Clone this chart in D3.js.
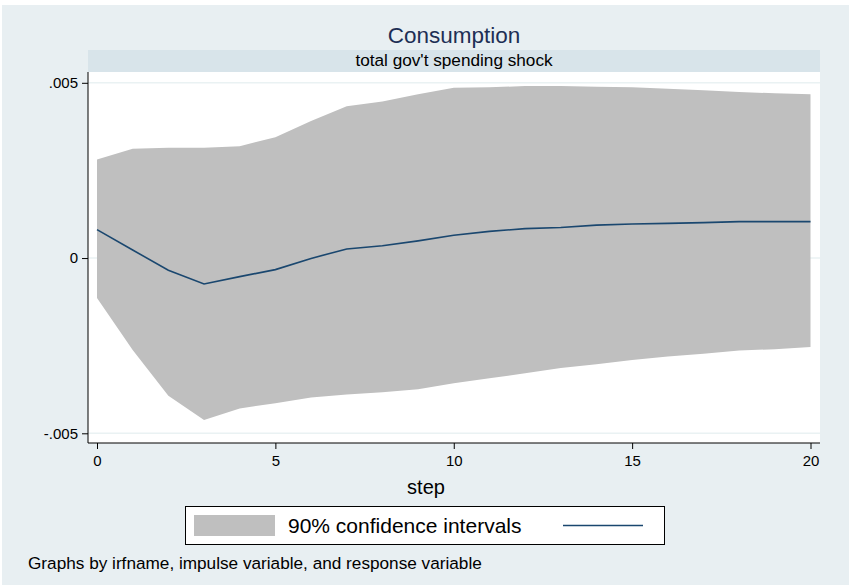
<!DOCTYPE html>
<html lang="en">
<head>
<meta charset="utf-8">
<title>Consumption IRF</title>
<style type="text/css">
    body { margin: 0; background-color: #fff; }
    svg { display: block; font-family: "Liberation Sans", Arial, sans-serif; }
    .axis text { fill: #000; font-size: 15px; }
    .axis line { stroke: #000; }
</style>
<script src="https://d3js.org/d3.v7.min.js"></script>
</head>
<body>
<div id="chart"></div>
<script>

// steps of the impulse response
var steps = [0, 1, 2, 3, 4, 5, 6, 7, 8, 9, 10, 11, 12, 13, 14, 15, 16, 17, 18, 19, 20];
// orthogonalised irf
var irf = [0.00081, 0.00023, -0.00035, -0.00074, -0.00053, -0.00033, -0.00001, 0.00026, 0.00035, 0.00049,
           0.00065, 0.00076, 0.00084, 0.00087, 0.00094, 0.00097, 0.00099, 0.00101, 0.00104, 0.00104, 0.00104];
// 90% bands
var upper = [0.00281, 0.00312, 0.00315, 0.00315, 0.00319, 0.00345, 0.00391, 0.00433, 0.00447, 0.00467,
             0.00486, 0.00487, 0.00491, 0.00491, 0.00489, 0.00487, 0.00483, 0.00479, 0.00474, 0.00470, 0.00467];
var lower = [-0.00114, -0.00262, -0.00393, -0.00462, -0.00429, -0.00414, -0.00398, -0.00389, -0.00383, -0.00374,
             -0.00357, -0.00343, -0.00329, -0.00314, -0.00303, -0.00291, -0.00281, -0.00273, -0.00264, -0.00260, -0.00254];

var xTicks = [0, 5, 10, 15, 20];
var yTicks = [-0.005, 0, 0.005];
var yTickLabels = ["-.005", "0", ".005"];

var width = 849, height = 585;
var plot = { left: 88, right: 820, top: 72, bottom: 443 };

var svg = d3.select('#chart')
    .append('svg')
    .attr('width', width)
    .attr('height', height);

// graph region
svg.append('rect')
    .attr('x', 2).attr('y', 5)
    .attr('width', width - 2).attr('height', height - 5)
    .attr('fill', '#e8eff2');

// plot region
svg.append('rect')
    .attr('x', plot.left).attr('y', plot.top)
    .attr('width', plot.right - plot.left).attr('height', plot.bottom - plot.top)
    .attr('fill', '#fff');

// by-strip
svg.append('rect')
    .attr('x', plot.left).attr('y', 50)
    .attr('width', plot.right - plot.left).attr('height', 22)
    .attr('fill', '#d8e4ea');

var xScale = d3.scaleLinear().domain([0, 20]).range([97, 810.5]);
var yScale = d3.scaleLinear().domain([-0.005, 0.005]).range([433.3, 82.8]);

var rows = steps.map(function(s, i) {
    return { step: s, irf: irf[i], lo: lower[i], hi: upper[i] };
});

// gridlines
svg.selectAll('.grid')
    .data(yTicks)
    .enter()
    .append('line')
    .attr('x1', plot.left).attr('x2', plot.right)
    .attr('y1', function(d) { return yScale(d); })
    .attr('y2', function(d) { return yScale(d); })
    .attr('stroke', '#eaf2f3')
    .attr('stroke-width', 1.5);

// confidence band
var area = d3.area()
    .x(function(d) { return xScale(d.step); })
    .y0(function(d) { return yScale(d.lo); })
    .y1(function(d) { return yScale(d.hi); });

svg.append('path')
    .datum(rows)
    .attr('d', area)
    .attr('fill', '#bfbfbf');

// irf line
var line = d3.line()
    .x(function(d) { return xScale(d.step); })
    .y(function(d) { return yScale(d.irf); });

svg.append('path')
    .datum(rows)
    .attr('d', line)
    .attr('fill', 'none')
    .attr('stroke', '#1a476f')
    .attr('stroke-width', 1.6);

// axes
var yAxis = d3.axisLeft(yScale)
    .tickValues(yTicks)
    .tickSize(6)
    .tickPadding(4)
    .tickFormat(function(d) { return yTickLabels[yTicks.indexOf(d)]; });

svg.append('g')
    .attr('class', 'axis')
    .attr('transform', 'translate(' + plot.left + ',0)')
    .call(yAxis)
    .call(function(g) { g.select('.domain').remove(); });

var xAxis = d3.axisBottom(xScale)
    .tickValues(xTicks)
    .tickSize(6)
    .tickPadding(6)
    .tickFormat(d3.format('d'));

svg.append('g')
    .attr('class', 'axis')
    .attr('transform', 'translate(0,' + plot.bottom + ')')
    .call(xAxis)
    .call(function(g) { g.select('.domain').remove(); });

svg.append('line')
    .attr('x1', plot.left).attr('x2', plot.left)
    .attr('y1', plot.top).attr('y2', plot.bottom)
    .attr('stroke', '#000');

svg.append('line')
    .attr('x1', plot.left).attr('x2', plot.right)
    .attr('y1', plot.bottom).attr('y2', plot.bottom)
    .attr('stroke', '#000');

// titles
svg.append('text')
    .attr('x', (plot.left + plot.right) / 2)
    .attr('y', 43)
    .attr('text-anchor', 'middle')
    .attr('font-size', '22.5px')
    .attr('fill', '#1e2f55')
    .text('Consumption');

svg.append('text')
    .attr('x', (plot.left + plot.right) / 2)
    .attr('y', 66)
    .attr('text-anchor', 'middle')
    .attr('font-size', '17.2px')
    .attr('fill', '#000')
    .text("total gov't spending shock");

svg.append('text')
    .attr('x', 426)
    .attr('y', 494)
    .attr('text-anchor', 'middle')
    .attr('font-size', '20px')
    .attr('fill', '#000')
    .text('step');

// legend
var legend = svg.append('g');
legend.append('rect')
    .attr('x', 185.5).attr('y', 506.5)
    .attr('width', 479).attr('height', 38)
    .attr('fill', '#fff')
    .attr('stroke', '#000');
legend.append('rect')
    .attr('x', 194).attr('y', 515)
    .attr('width', 81).attr('height', 21)
    .attr('fill', '#bfbfbf');
legend.append('text')
    .attr('x', 288).attr('y', 533)
    .attr('font-size', '21px')
    .attr('fill', '#000')
    .text('90% confidence intervals');
legend.append('line')
    .attr('x1', 563).attr('x2', 643)
    .attr('y1', 525.5).attr('y2', 525.5)
    .attr('stroke', '#1a476f')
    .attr('stroke-width', 1.6);

// note
svg.append('text')
    .attr('x', 28).attr('y', 569)
    .attr('font-size', '17.2px')
    .attr('fill', '#000')
    .text('Graphs by irfname, impulse variable, and response variable');

</script>
</body>
</html>
